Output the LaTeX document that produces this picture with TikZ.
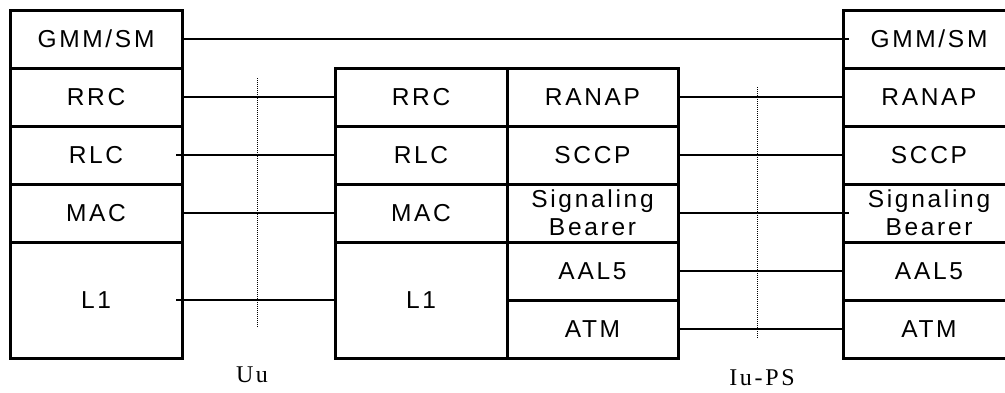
\documentclass[tikz,border=0pt]{standalone}
\usepackage{fontspec}
\setmainfont{Liberation Serif}
\setsansfont{Liberation Sans}
\newfontfamily\layerfont{Liberation Sans}[LetterSpace=11]
\newfontfamily\ifacefont{Liberation Serif}[LetterSpace=11]
\usepackage{tikz}
\usetikzlibrary{positioning}
\tikzset{
	layer/.style={
		draw,
		line width=3pt,
		minimum width=172pt,
		minimum height=58pt,
		inner sep=0pt,
		outer sep=0pt,
		align=center,
		font=\layerfont\fontsize{24.5}{28}\selectfont
	},
	peer/.style={
		line width=2.2pt
	},
	iface/.style={
		line width=1pt,
		dash pattern=on 1pt off 1pt
	}
}

\begin{document}
\begin{tikzpicture}[x=1pt, y=-1pt, node distance=0pt]
		\useasboundingbox (0,0) rectangle (1005,392);
		
		% UE
		\node[layer, anchor=north west] (UEgmm) at (10,10) {GMM/SM};
		\node[layer, below=of UEgmm] (UErrc) {RRC};
		\node[layer, below=of UErrc] (UErlc) {RLC};
		\node[layer, below=of UErlc] (UEmac) {MAC};
		\node[layer, below=of UEmac, minimum height=116pt] (UEl1) {L1};
		
		% RNC
		\node[layer, anchor=north west] (RNCrrc) at (335,68) {RRC};
		\node[layer, below=of RNCrrc] (RNCrlc) {RLC};
		\node[layer, below=of RNCrlc] (RNCmac) {MAC};
		\node[layer, below=of RNCmac, minimum height=116pt] (RNCl1) {L1};
		\node[layer, right=of RNCrrc, minimum width=171pt] (RNCranap) {RANAP};
		\node[layer, below=of RNCranap, minimum width=171pt] (RNCsccp) {SCCP};
		\node[layer, below=of RNCsccp, minimum width=171pt] (RNCsig) {Signaling\\Bearer};
		\node[layer, below=of RNCsig, minimum width=171pt] (RNCaal) {AAL5};
		\node[layer, below=of RNCaal, minimum width=171pt] (RNCatm) {ATM};
		
		% SGSN
		\node[layer, anchor=north west] (SGSNgmm) at (843,10) {GMM/SM};
		\node[layer, below=of SGSNgmm] (SGSNranap) {RANAP};
		\node[layer, below=of SGSNranap] (SGSNsccp) {SCCP};
		\node[layer, below=of SGSNsccp] (SGSNsig) {Signaling\\Bearer};
		\node[layer, below=of SGSNsig] (SGSNaal) {AAL5};
		\node[layer, below=of SGSNaal] (SGSNatm) {ATM};
		
		% Liaisons UE-RNC
		\draw[peer] (UEgmm.east) -- ([xshift=6pt]SGSNgmm.west);
		\draw[peer] (UErrc.east) -- (RNCrrc.west);
		\draw[peer] ([xshift=-6pt]UErlc.east) -- (RNCrlc.west);
		\draw[peer] (UEmac.east) -- (RNCmac.west);
		\draw[peer] ([xshift=-6pt]UEl1.east) -- (RNCl1.west);
		
		% Liaisons RNC-SGSN
		\draw[peer] (RNCranap.east) -- (SGSNranap.west);
		\draw[peer] (RNCsccp.east) -- (SGSNsccp.west);
		\draw[peer] (RNCsig.east) -- ([xshift=6pt]SGSNsig.west);
		\draw[peer] (RNCaal.east) -- (SGSNaal.west);
		\draw[peer] (RNCatm.east) -- (SGSNatm.west);
		
		% Interfaces
		\coordinate (UuTop) at (257,78);
		\coordinate (UuBot) at (257,328);
		\coordinate (IuTop) at (757,87);
		\coordinate (IuBot) at (757,338);
		\draw[iface] (UuTop) -- (UuBot);
		\draw[iface] (IuTop) -- (IuBot);
		\node[font=\ifacefont\fontsize{24}{28}\selectfont] (Uu) at (252,375) {Uu};
		\node[font=\ifacefont\fontsize{24}{28}\selectfont] (IuPS) at (762,378) {Iu-PS};
		
	\end{tikzpicture}
\end{document}
